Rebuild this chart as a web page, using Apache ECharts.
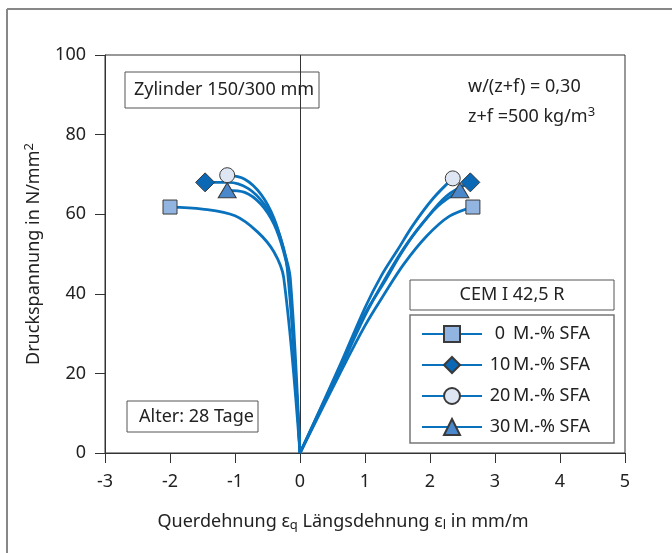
<!DOCTYPE html>
<html>
<head>
<meta charset="utf-8">
<script src="https://cdn.jsdelivr.net/npm/echarts@6/dist/echarts.min.js"></script>
<style>
  html, body { margin: 0; padding: 0; background: #fff; }
  #chart { width: 672px; height: 553px; }
</style>
</head>
<body>
<div id="chart"></div>
<script>
// Kurven: Querdehnung (links, negativ) und Längsdehnung (rechts)
const names = ['0', '10', '20', '30'];
const left0 = [[-2.0, 61.8], [-1.5, 61.3], [-1.0, 59.6], [-0.65, 55.5], [-0.4, 50.5], [-0.25, 44], [0, 0]];
const left10 = [[-1.46, 68], [-1.1, 68], [-0.8, 66.5], [-0.55, 62.5], [-0.35, 56.5], [-0.2, 47], [0, 0]];
const left20 = [[-1.12, 69.8], [-0.85, 68.8], [-0.6, 65], [-0.4, 59], [-0.25, 51], [-0.15, 44], [0, 0]];
const left30 = [[-1.12, 66], [-0.85, 65.5], [-0.6, 62.5], [-0.4, 57.5], [-0.25, 50.5], [-0.17, 44], [0, 0]];
const right0 = [[0, 0], [0.6, 19.5], [1.0, 32], [1.3, 40], [1.6, 47.5], [1.95, 54.5], [2.3, 59.5], [2.66, 61.8]];
const right10 = [[0, 0], [0.6, 20.5], [1.0, 34.5], [1.3, 43.5], [1.6, 51.5], [1.9, 58], [2.25, 64.5], [2.62, 68]];
const right20 = [[0, 0], [0.6, 21.5], [1.0, 36.5], [1.25, 44.5], [1.5, 51], [1.75, 57.5], [2.05, 64], [2.35, 69]];
const right30 = [[0, 0], [0.6, 21], [1.0, 35], [1.3, 43], [1.55, 50], [1.8, 56], [2.12, 62], [2.46, 66]];
const xTicks = [-3, -2, -1, 0, 1, 2, 3, 4, 5];
const yTicks = [0, 20, 40, 60, 80, 100];

const font = 'Noto Sans';
const fs = 18;
const lineColor = '#0a72bc';
const symbols = ['rect', 'diamond', 'circle', 'triangle'];
const symSizes = [14, 19, 15, [18, 15]];
const fills = ['#92b4e1', '#0a68b4', '#dfe6f3', '#4a88cb'];
const lefts = [left0, left10, left20, left30];
const rights = [right0, right10, right20, right30];

function legendName(i) {
    return names[i] + 'M.-% SFA';
}

// nur der Endpunkt bekommt ein Symbol
function withMarker(pts, atStart) {
    return pts.map((p, i) => {
        const isEnd = atStart ? i === 0 : i === pts.length - 1;
        return isEnd ? {value: p} : {value: p, symbol: 'none'};
    });
}

let series = [];
for (let i = 0; i < 4; i++) {
    const base = {
        name: legendName(i),
        type: 'line',
        smooth: 0.35,
        symbol: symbols[i],
        symbolSize: symSizes[i],
        lineStyle: {color: lineColor, width: 2.8},
        itemStyle: {color: fills[i], borderColor: '#3a3a3a', borderWidth: 1},
        z: 3 + i
    };
    series.push(Object.assign({}, base, {data: withMarker(lefts[i], true)}));
    series.push(Object.assign({}, base, {data: withMarker(rights[i], false)}));
}
// senkrechte Linie bei x = 0
series[0].markLine = {
    silent: true,
    symbol: 'none',
    label: {show: false},
    lineStyle: {color: '#333', width: 1, type: 'solid'},
    data: [{xAxis: 0}]
};

function box(x, y, w, h, text, textX) {
    return [
        {type: 'rect', shape: {x: x, y: y, width: w, height: h},
            style: {fill: '#fff', stroke: '#555', lineWidth: 1}},
        {type: 'text', x: textX, y: y + h / 2,
            style: {text: text, font: fs + 'px "' + font + '"', fill: '#222', verticalAlign: 'middle'}}
    ];
}

let graphics = [
    {type: 'line', shape: {x1: 7, y1: 9, x2: 672, y2: 9}, style: {stroke: '#888', lineWidth: 2}},
    {type: 'line', shape: {x1: 7, y1: 9, x2: 7, y2: 553}, style: {stroke: '#888', lineWidth: 2}},
    {type: 'rect', shape: {x: 410, y: 315, width: 204, height: 128},
        style: {fill: '#fff', stroke: '#777', lineWidth: 1.5}, z: 1}
];
graphics = graphics.concat(box(125, 72, 194, 36, 'Zylinder 150/300 mm', 134));
graphics = graphics.concat(box(127, 401, 131, 31, 'Alter: 28 Tage', 139));
graphics.push({type: 'rect', shape: {x: 410, y: 280, width: 204, height: 30},
    style: {fill: '#fff', stroke: '#555', lineWidth: 1}});
graphics.push({type: 'text', x: 512, y: 295,
    style: {text: 'CEM I 42,5 R', font: fs + 'px "' + font + '"', fill: '#222', align: 'center', verticalAlign: 'middle'}});
graphics.push({type: 'text', x: 468, y: 87,
    style: {text: 'w/(z+f) = 0,30', font: fs + 'px "' + font + '"', fill: '#222', verticalAlign: 'middle'}});
graphics.push({type: 'text', x: 468, y: 117,
    style: {
        text: 'z+f =500 kg/m{sup|3}', font: fs + 'px "' + font + '"', fill: '#222', verticalAlign: 'middle',
        rich: {sup: {fontSize: 13, verticalAlign: 'top', padding: [0, 0, 9, 0], fontFamily: font, fill: '#222'}}
    }});

const chart = echarts.init(document.getElementById('chart'));
chart.setOption({
    animation: false,
    textStyle: {fontFamily: font},
    grid: {left: 105, right: 47, top: 55, bottom: 100, show: true, borderColor: '#333', borderWidth: 1},
    xAxis: {
        type: 'value',
        min: xTicks[0], max: xTicks[xTicks.length - 1], interval: 1,
        axisLine: {onZero: false, lineStyle: {color: '#333', width: 1}},
        axisTick: {show: true, length: 10, lineStyle: {color: '#333'}},
        axisLabel: {fontSize: fs, color: '#222', margin: 20},
        splitLine: {show: false},
        name: 'Querdehnung ε{sub|q} Längsdehnung ε{sub|l} in mm/m',
        nameLocation: 'middle',
        nameGap: 58,
        nameTextStyle: {
            fontSize: fs, color: '#222', padding: [0, 44, 0, 0],
            rich: {sub: {fontSize: 13, verticalAlign: 'bottom', padding: [8, 0, 0, 0], color: '#222'}}
        }
    },
    yAxis: {
        type: 'value',
        min: yTicks[0], max: yTicks[yTicks.length - 1], interval: 20,
        axisLine: {show: true, onZero: false, lineStyle: {color: '#333', width: 1}},
        axisTick: {show: true, length: 10, lineStyle: {color: '#333'}},
        axisLabel: {fontSize: fs, color: '#222', margin: 19},
        splitLine: {show: false},
        name: 'Druckspannung in N/mm{sup|2}',
        nameLocation: 'middle',
        nameGap: 60,
        nameTextStyle: {
            fontSize: fs, color: '#222',
            rich: {sup: {fontSize: 13, verticalAlign: 'top', padding: [0, 0, 9, 0], color: '#222'}}
        }
    },
    legend: {
        data: [0, 1, 2, 3].map(legendName),
        orient: 'vertical',
        left: 421, top: 325,
        padding: 0,
        itemWidth: 60, itemHeight: 20,
        itemGap: 13,
        z: 5,
        formatter: function (n) {
            const num = n.split('M')[0];
            return '{n|' + num + '}{t|M.-% SFA}';
        },
        textStyle: {
            fontSize: fs, color: '#222',
            rich: {
                n: {width: 26, align: 'right', fontSize: fs, color: '#222'},
                t: {fontSize: fs, color: '#222'}
            }
        }
    },
    graphic: graphics,
    series: series
});
</script>
</body>
</html>
